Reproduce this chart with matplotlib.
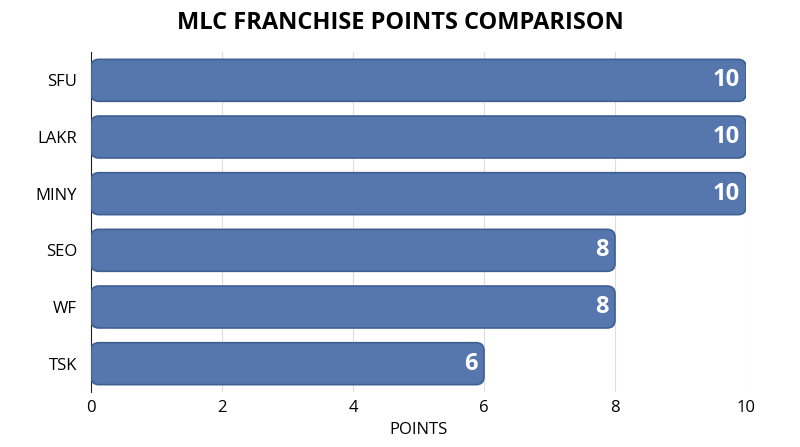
import matplotlib
matplotlib.use('Agg')
from matplotlib import pyplot as plt
from matplotlib.patches import FancyBboxPatch

teams = ['SFU', 'LAKR', 'MINY', 'SEO', 'WF', 'TSK']
points = [10, 10, 10, 8, 8, 6]

plt.rcParams['font.family'] = ['Open Sans', 'DejaVu Sans']

fig = plt.figure(figsize=(8, 4.47), dpi=100)
ax = fig.add_axes([91 / 800, 1 - 392 / 447, 655 / 800, 340 / 447])

for i, (t, p) in enumerate(zip(teams, points)):
    bar = FancyBboxPatch((0, i - 0.37), p, 0.74,
                         boxstyle='round,pad=0,rounding_size=0.12',
                         mutation_aspect=1.15,
                         facecolor='#5577ae', edgecolor='#3f5f93', linewidth=1.2, zorder=3)
    ax.add_patch(bar)
    ax.text(p - 0.1, i, str(p), ha='right', va='center', color='white',
            fontsize=17, fontweight='bold', zorder=4)

ax.set_xlim(0, 10)
ax.set_ylim(5.5, -0.5)
ax.set_yticks(range(len(teams)))
ax.set_yticklabels(teams, fontsize=12)
ax.set_xticks(range(0, 11, 2))
ax.tick_params(axis='x', labelsize=12, length=0, pad=6)
ax.tick_params(axis='y', length=0, pad=10)
ax.grid(axis='x', color='#dddddd', linewidth=0.8, zorder=0)
for s in ['top', 'right', 'bottom']:
    ax.spines[s].set_visible(False)
ax.spines['left'].set_color('#222222')
ax.set_xlabel('POINTS', fontsize=12, labelpad=4)
fig.suptitle('MLC FRANCHISE POINTS COMPARISON', fontsize=17, fontweight='bold', y=0.975)

fig.savefig('out.png', dpi=100)
